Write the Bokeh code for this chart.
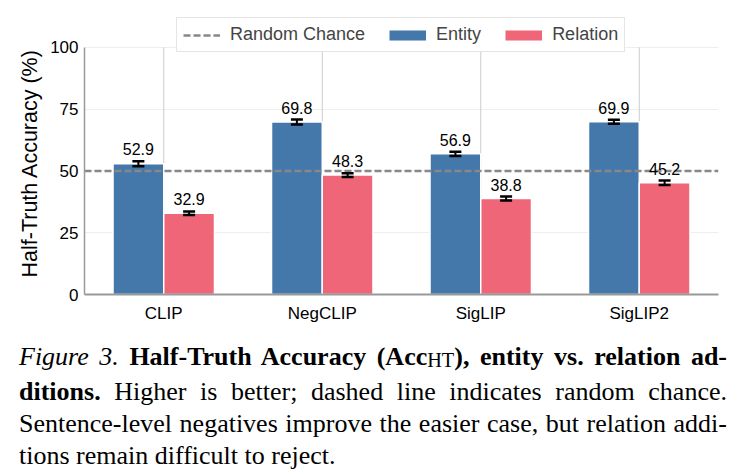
from bokeh.plotting import figure
from bokeh.models import (ColumnDataSource, FixedTicker, Whisker, TeeHead, Legend,
                          LegendItem, Div, Title)
from bokeh.layouts import column
from bokeh.embed import file_html
from bokeh.resources import INLINE
from bokeh.core.properties import value

# ---- data ----
models = ["CLIP", "NegCLIP", "SigLIP", "SigLIP2"]
entity = [52.9, 69.8, 56.9, 69.9]
entity_err = [1.0, 1.0, 0.9, 0.8]
relation = [32.9, 48.3, 38.8, 45.2]
relation_err = [0.7, 0.8, 0.8, 0.9]
chance = 50
y_ticks = [0, 25, 50, 75, 100]
series_names = ["Random Chance", "Entity", "Relation"]
y_label = "Half-Truth Accuracy (%)"
caption_lines = [
    '<i>Figure 3.</i> <b>Half-Truth Accuracy (Acc<span style="font-weight:normal;font-size:0.78em;vertical-align:-0.08em;">HT</span>), entity vs. relation ad-</b>',
    '<b>ditions.</b> Higher is better; dashed line indicates random chance.',
    'Sentence-level negatives improve the easier case, but relation addi-',
    'tions remain difficult to reject.',
]

BLUE = "#4477AA"
PINK = "#EE6677"
GREY = "#888888"
FONT = "Liberation Sans"
OFF = 0.16
BW = 0.32
Y_TOP = 114.9  # headroom above 100 so the legend fits inside the frame
NAN = float("nan")

idx = list(range(len(models)))
ent_x = [i - OFF for i in idx]
rel_x = [i + OFF for i in idx]
x_lo, x_hi = -0.5, len(models) - 0.5

ent_src = ColumnDataSource(dict(
    x=ent_x, top=entity,
    upper=[v + e for v, e in zip(entity, entity_err)],
    lower=[v - e for v, e in zip(entity, entity_err)],
    label=[f"{v:.1f}" for v in entity]))
rel_src = ColumnDataSource(dict(
    x=rel_x, top=relation,
    upper=[v + e for v, e in zip(relation, relation_err)],
    lower=[v - e for v, e in zip(relation, relation_err)],
    label=[f"{v:.1f}" for v in relation]))

p = figure(width=740, height=325, x_range=(x_lo, x_hi), y_range=(0, Y_TOP),
           output_backend="svg", toolbar_location=None, tools="",
           min_border_left=84, min_border_right=22, min_border_top=10, min_border_bottom=30)
p.outline_line_color = None
p.background_fill_color = "white"

# axes
p.xaxis.ticker = FixedTicker(ticks=idx)
p.xaxis.major_label_overrides = {i: m for i, m in zip(idx, models)}
p.yaxis.ticker = FixedTicker(ticks=y_ticks)
p.yaxis.bounds = (y_ticks[0], y_ticks[-1])
for ax in (p.xaxis, p.yaxis):
    ax.major_tick_line_color = None
    ax.minor_tick_line_color = None
    ax.major_tick_out = 0
    ax.major_tick_in = 0
    ax.major_label_text_font = FONT
    ax.major_label_text_font_size = "17px"
    ax.major_label_text_color = "black"
    ax.axis_line_color = "#999999"
p.xaxis.axis_line_width = 2
p.yaxis.axis_line_width = 1.5
p.xaxis.major_label_standoff = 9
p.yaxis.major_label_standoff = 6

# y-axis title (placed along the 0-100 part of the axis)
p.add_layout(Title(text=y_label, align="left", offset=17, text_font=FONT,
                   text_font_size="21.5px", text_font_style="normal",
                   text_color="black", standoff=11), "left")

# grids
p.xgrid.grid_line_color = None
p.ygrid.grid_line_color = "#eeeeee"
p.ygrid.grid_line_width = 1
p.segment(x0=idx, x1=idx, y0=[y_ticks[0]] * len(idx), y1=[y_ticks[-1]] * len(idx),
          line_color="#cccccc", line_width=1)

# bars
r_ent = p.vbar(x="x", top="top", width=BW, source=ent_src, fill_color=BLUE,
               line_color="white", line_width=1.5)
r_rel = p.vbar(x="x", top="top", width=BW, source=rel_src, fill_color=PINK,
               line_color="white", line_width=1.5)

# random chance line
r_chance = p.line(x=[x_lo, x_hi], y=[chance, chance], line_color=GREY,
                  line_width=2.5, line_dash="7 3")

# error bars
for src in (ent_src, rel_src):
    w = Whisker(source=src, base="x", upper="upper", lower="lower", dimension="height",
                line_color="black", line_width=2, level="overlay",
                upper_head=TeeHead(size=12, line_width=2.5, line_color="black"),
                lower_head=TeeHead(size=12, line_width=2.5, line_color="black"))
    p.add_layout(w)
    p.text(x="x", y="upper", text="label", source=src, text_align="center",
           text_baseline="bottom", y_offset=-6, text_font=value(FONT),
           text_font_size="16px", text_color="black")

# legend swatches (draw nothing in the plot)
lg_ent = p.line(x=[NAN], y=[NAN], line_color=BLUE, line_width=10)
lg_rel = p.line(x=[NAN], y=[NAN], line_color=PINK, line_width=10)

legend = Legend(items=[LegendItem(label=series_names[0], renderers=[r_chance]),
                       LegendItem(label=series_names[1], renderers=[lg_ent]),
                       LegendItem(label=series_names[2], renderers=[lg_rel])],
                orientation="horizontal", location=(92, 242), margin=0, padding=6,
                spacing=24, label_standoff=10, glyph_width=37, glyph_height=14,
                label_text_font=FONT, label_text_font_size="18px",
                border_line_color="#cccccc", border_line_width=1.2,
                background_fill_color="white", background_fill_alpha=1.0)
p.add_layout(legend, "center")

# caption
line_divs = []
for i, ln in enumerate(caption_lines):
    last = i == len(caption_lines) - 1
    align = "left" if last else "justify"
    line_divs.append(
        f'<div style="text-align:justify;text-align-last:{align};white-space:nowrap;">{ln}</div>')
html = ('<div style="box-sizing:border-box;width:740px;padding:11px 18px 0 14px;'
        'font-family:\'Liberation Serif\';font-size:26px;line-height:32px;color:#000;">'
        + "".join(line_divs) + '</div>')
cap = Div(text=html, width=740, height=150)

layout = column(p, cap, spacing=0)
open("out.html", "w").write(file_html(layout, INLINE))
